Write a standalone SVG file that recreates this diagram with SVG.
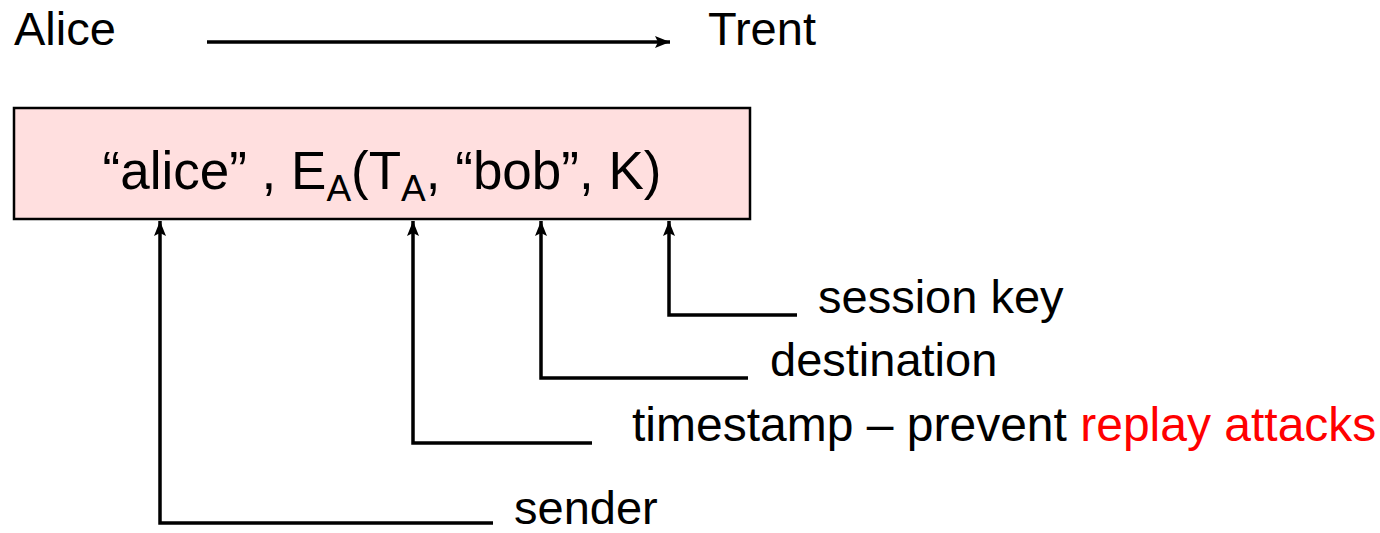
<svg xmlns="http://www.w3.org/2000/svg" width="1380" height="533" viewBox="0 0 1380 533">
<style>
text{font-family:"Liberation Sans",Arial,sans-serif;font-size:47px;fill:#000}
text.big{font-size:53px}
text.big tspan.sub{font-size:37px}
text.ts{font-size:48px}
.c{fill:none;stroke:#000;stroke-width:3.5}
.red{fill:#ff0000}
</style>
<defs>
<marker id="ah" markerUnits="userSpaceOnUse" markerWidth="16" markerHeight="16" viewBox="0 0 16 16" refX="15" refY="8" orient="auto">
<path d="M0,2 L15,8 L0,14 L3,8 Z" fill="#000"/>
</marker>
</defs>
<rect width="1380" height="533" fill="#fff"/>
<g id="alice"><text x="14" y="45">Alice</text></g>
<g id="trent"><text x="708" y="45">Trent</text></g>
<g id="message">
<rect x="14" y="108" width="736" height="111" fill="#ffdfdf" stroke="#000" stroke-width="2.5"/>
<text class="big" x="382" y="189" text-anchor="middle">“alice” , E<tspan class="sub" dy="12">A</tspan><tspan dy="-12">(T</tspan><tspan class="sub" dy="12">A</tspan><tspan dy="-12">, “bob”, K)</tspan></text>
</g>
<g id="label-session-key"><text x="818" y="313">session key</text></g>
<g id="label-destination"><text x="770" y="376">destination</text></g>
<g id="label-timestamp"><text class="ts" x="632" y="441">timestamp – prevent <tspan class="red">replay attacks</tspan></text></g>
<g id="label-sender"><text x="514" y="524">sender</text></g>
<g id="connectors">
<path class="c" d="M207,42 H670" marker-end="url(#ah)"/>
<path class="c" d="M797,315 H669 V221" marker-end="url(#ah)"/>
<path class="c" d="M748,378 H541 V221" marker-end="url(#ah)"/>
<path class="c" d="M592,443 H413 V221" marker-end="url(#ah)"/>
<path class="c" d="M493,523 H160 V221" marker-end="url(#ah)"/>
</g>
</svg>
